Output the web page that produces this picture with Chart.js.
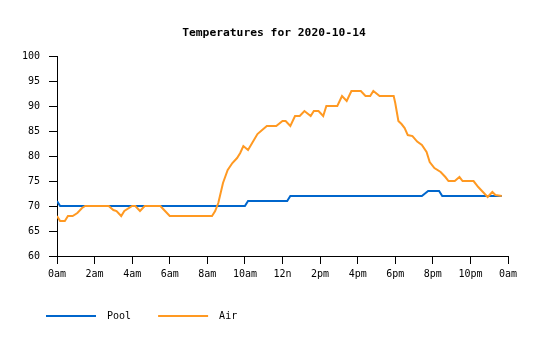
<!DOCTYPE html>
<html>
<head>
<meta charset="utf-8">
<script src="https://cdn.jsdelivr.net/npm/chart.js@4"></script>
<style>
  html,body{margin:0;padding:0;background:#fff;}
  #wrap{width:540px;height:340px;}
</style>
</head>
<body>
<div id="wrap"><canvas id="chartTemps"></canvas></div>
<script>
/* ==========================================
   DATA
========================================== */
const chartTitle = "Temperatures for 2020-10-14";

const poolTimes = ["00:00","00:10","10:00","10:10","12:15","12:25","19:25","19:45","20:20","20:30","23:40"];
const poolTemps = [71,70,70,71,71,72,72,73,73,72,72];

const airTimes = [
  "00:00","00:10","00:25","00:35","00:50","01:05","01:20","01:30","02:45","03:00",
  "03:10","03:25","03:35","04:00","04:10","04:25","04:40","05:30","05:45","06:00",
  "08:15","08:25","08:35","08:50","09:05","09:20","09:35","09:45","09:55","10:10",
  "10:25","10:40","10:55","11:10","11:40","12:00","12:10","12:25","12:40","12:55",
  "13:10","13:30","13:40","13:55","14:10","14:20","14:55","15:10","15:25","15:40",
  "16:10","16:25","16:40","16:50","17:10","17:55","18:00","18:05","18:10","18:20",
  "18:30","18:40","18:55","19:10","19:25","19:40","19:50","20:05","20:25","20:40",
  "20:50","21:10","21:25","21:35","22:10","22:25","22:40","22:55","23:10","23:20",
  "23:40"
];
const airTemps = [
  68,67,67,68,68,68.6,69.6,70,70,69.2,
  69,68,69,70,70,69,70,70,69,68,
  68,69,70.6,74.6,77.2,78.6,79.6,80.6,82,81.2,
  82.8,84.4,85.2,86,86,87,87,86,88,88,
  89,88,89,89,88,90,90,92,91,93,
  93,92,92,93,92,92,90.6,88.8,87,86.4,
  85.6,84.2,84,82.9,82.2,80.8,78.8,77.6,76.8,75.8,
  75,75,75.8,75,75,73.8,72.8,71.8,72.8,72.2,
  72
];

const hourTicks = [0,2,4,6,8,10,12,14,16,18,20,22,24];
const hourLabels = ["0am","2am","4am","6am","8am","10am","12n","2pm","4pm","6pm","8pm","10pm","0am"];

const yTicks = [60,65,70,75,80,85,90,95,100];

/* ==========================================
   HELPERS
========================================== */
function toHours(t){
  const p = t.split(":");
  return Number(p[0]) + Number(p[1])/60;
}

function toPoints(times, temps){
  return times.map((t,i)=>({ x:toHours(t), y:temps[i] }));
}

const FONT = "'DejaVu Sans Mono', monospace";

// title sits a little right of the full-width centre
const titleShift = {
  id:"titleShift",
  afterLayout(chart){
    if(chart.titleBlock){
      chart.titleBlock.left += 21;
    }
  }
};

/* ==========================================
   TEMPERATURE CHART
========================================== */
new Chart(
  document.getElementById("chartTemps"),
  {
    type:"line",
    plugins:[titleShift],
    data:{
      datasets:[
        {
          label:"Pool",
          data:toPoints(poolTimes, poolTemps),
          borderColor:"#0066cc",
          backgroundColor:"#0066cc",
          borderWidth:2,
          pointRadius:0,
          tension:0,
          order:1
        },
        {
          label:"Air",
          data:toPoints(airTimes, airTemps),
          borderColor:"#ff9922",
          backgroundColor:"#ff9922",
          borderWidth:2,
          pointRadius:0,
          tension:0,
          order:0
        }
      ]
    },
    options:{
      responsive:true,
      maintainAspectRatio:false,
      animation:false,
      layout:{
        padding:{ left:19, right:32, top:0, bottom:9 }
      },
      plugins:{
        tooltip:{ enabled:false },
        title:{
          display:true,
          text:chartTitle,
          color:"#000",
          font:{ family:FONT, size:11.3, weight:"bold" },
          padding:{ top:26, bottom:16.5 }
        },
        legend:{
          position:"bottom",
          align:"start",
          labels:{
            color:"#000",
            font:{ family:FONT, size:10 },
            boxWidth:50,
            boxHeight:2,
            padding:27,
            sort:(a,b)=>a.datasetIndex-b.datasetIndex,
            generateLabels:(chart)=>{
              const items =
                Chart.defaults.plugins.legend.labels.generateLabels(chart);
              items.forEach(it=>{
                it.text = " " + it.text;
                it.lineWidth = 0;
              });
              return items;
            }
          }
        }
      },
      scales:{
        x:{
          type:"linear",
          min:0,
          max:24,
          afterBuildTicks:(scale)=>{
            scale.ticks = hourTicks.map(v=>({ value:v }));
          },
          afterFit:(scale)=>{ scale.height = 28; },
          ticks:{
            color:"#000",
            font:{ family:FONT, size:10 },
            padding:4,
            maxRotation:0,
            autoSkip:false,
            callback:(v)=>hourLabels[hourTicks.indexOf(v)]
          },
          grid:{
            drawOnChartArea:false,
            drawTicks:true,
            tickLength:8,
            color:"#000"
          },
          border:{ display:true, color:"#000", width:1 }
        },
        y:{
          min:60,
          max:100,
          afterBuildTicks:(scale)=>{
            scale.ticks = yTicks.map(v=>({ value:v }));
          },
          afterFit:(scale)=>{ scale.width = 38; },
          ticks:{
            color:"#000",
            font:{ family:FONT, size:10 },
            padding:9
          },
          grid:{
            drawOnChartArea:false,
            drawTicks:true,
            tickLength:8,
            color:"#000"
          },
          border:{ display:true, color:"#000", width:1 }
        }
      }
    }
  }
);
</script>
</body>
</html>
